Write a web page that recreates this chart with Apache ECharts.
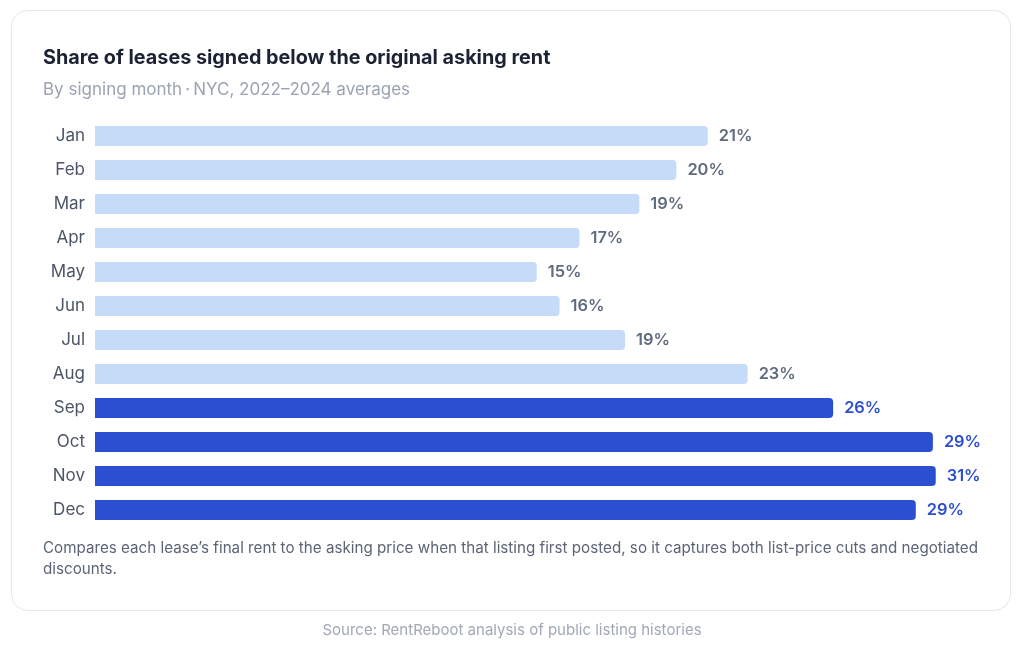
<!DOCTYPE html>
<html>
<head>
<meta charset="utf-8">
<script src="https://cdn.jsdelivr.net/npm/echarts@6/dist/echarts.min.js"></script>
<style>
  html, body { margin: 0; padding: 0; background: #ffffff; }
  #main { width: 1024px; height: 651px; }
</style>
</head>
<body>
<div id="main"></div>
<script>
// months, top to bottom
var months = ['Jan', 'Feb', 'Mar', 'Apr', 'May', 'Jun', 'Jul', 'Aug', 'Sep', 'Oct', 'Nov', 'Dec'];
// bar lengths (percent)
var shareValues = [21.5, 20.4, 19.1, 17.0, 15.5, 16.3, 18.6, 22.9, 25.9, 29.4, 29.5, 28.8];
// printed value labels
var shareLabels = [21, 20, 19, 17, 15, 16, 19, 23, 26, 29, 31, 29];
// fall months are highlighted
var highlighted = [false, false, false, false, false, false, false, false, true, true, true, true];

var FONT = 'Inter, "Noto Sans", sans-serif';
var LIGHT = '#c6dbf8';
var DARK = '#2a4fcf';

var myChart = echarts.init(document.getElementById('main'));

var barData = [];
for (var i = 0; i < months.length; i++) {
  barData.push({
    value: shareValues[i],
    itemStyle: { color: highlighted[i] ? DARK : LIGHT },
    label: { color: highlighted[i] ? '#2d4fcf' : '#5f6b7e' }
  });
}

var option = {
  backgroundColor: '#ffffff',
  animation: false,
  title: [{
    text: 'Share of leases signed below the original asking rent',
    left: 43,
    top: 48,
    padding: 0,
    textStyle: { fontFamily: FONT, fontSize: 19.8, fontWeight: 700, color: '#1b2233' }
  }, {
    text: 'By signing month\u2009·\u2009NYC, 2022–2024 averages',
    left: 43,
    top: 81,
    padding: 0,
    textStyle: { fontFamily: FONT, fontSize: 17, fontWeight: 400, color: '#9aa3b4' }
  }],
  grid: { left: 95, right: 74, top: 119, bottom: 124 },
  xAxis: {
    type: 'value',
    min: 0,
    max: 30,
    show: false
  },
  yAxis: {
    type: 'category',
    inverse: true,
    data: months,
    axisLine: { show: false },
    axisTick: { show: false },
    axisLabel: { margin: 10, fontFamily: FONT, fontSize: 17, color: '#4b5567' }
  },
  series: [{
    type: 'bar',
    barWidth: 20,
    data: barData,
    itemStyle: { borderRadius: [0, 4, 4, 0] },
    label: {
      show: true,
      position: 'right',
      distance: 11,
      fontFamily: FONT,
      fontSize: 16.4,
      fontWeight: 600,
      formatter: function (p) { return shareLabels[p.dataIndex] + '%'; }
    }
  }],
  graphic: [{
    type: 'rect',
    z: -10,
    shape: { x: 11.5, y: 10.5, width: 999, height: 600, r: 16 },
    style: { fill: '#ffffff', stroke: '#e3e6ec', lineWidth: 1 }
  }, {
    type: 'text',
    left: 43,
    top: 538,
    style: {
      text: 'Compares each lease\u2019s final rent to the asking price when that listing first posted, so it captures both list-price cuts and negotiated\ndiscounts.',
      font: '15.2px ' + FONT,
      fill: '#5b6577',
      lineHeight: 21
    }
  }, {
    type: 'text',
    left: 'center',
    top: 623,
    style: {
      text: 'Source: RentReboot analysis of public listing histories',
      font: '15px ' + FONT,
      fill: '#a0a8b8'
    }
  }]
};

myChart.setOption(option);
</script>
</body>
</html>
